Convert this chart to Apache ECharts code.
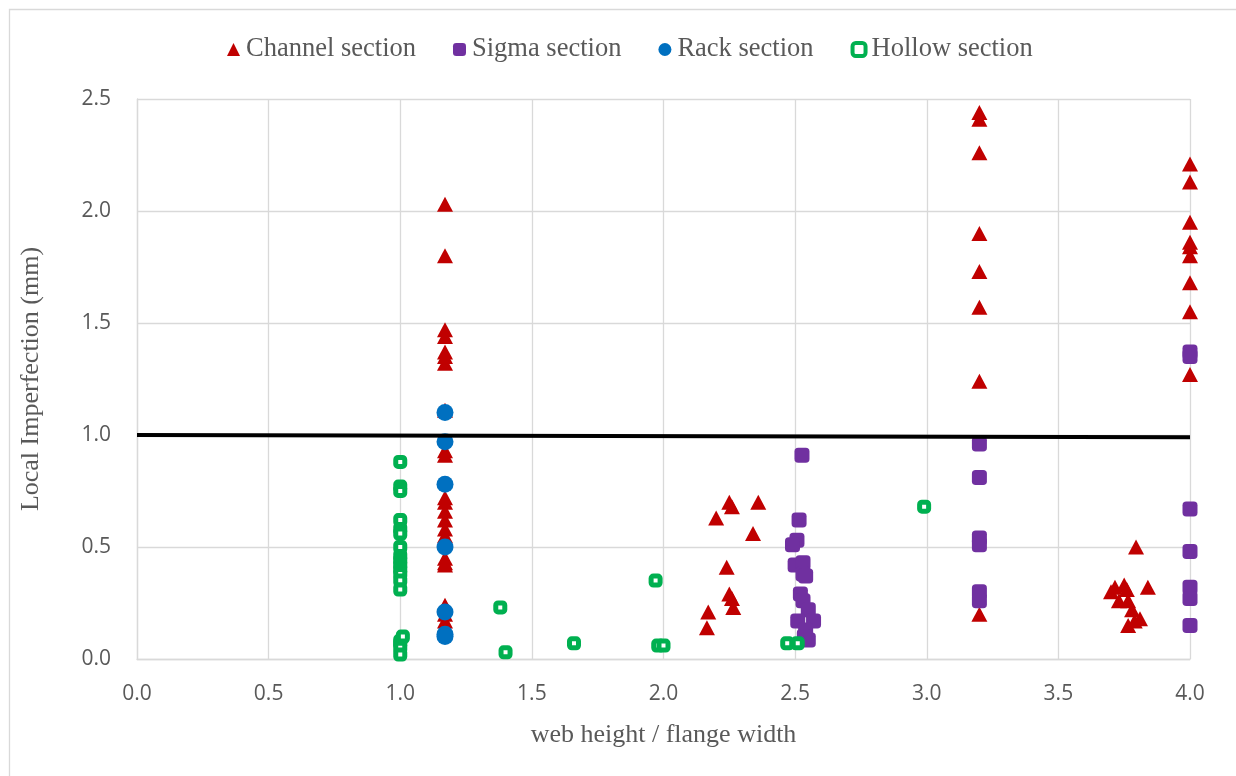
<!DOCTYPE html>
<html>
<head>
<meta charset="utf-8">
<script src="https://cdn.jsdelivr.net/npm/echarts@6/dist/echarts.min.js"></script>
<style>html,body{margin:0;padding:0;background:#fff;}#c{width:1236px;height:776px;}</style>
</head>
<body>
<div id="c"></div>
<script>
// ---- data ----
const channelX = [1.17,1.17,1.17,1.17,1.17,1.17,1.17,1.17,1.17,1.17,1.17,1.17,1.17,1.17,1.17,1.17,1.17,1.17,1.17,1.17,1.17,1.17,
  2.165,2.17,2.20,2.24,2.25,2.26,2.265,2.25,2.26,2.34,2.36,
  3.2,3.2,3.2,3.2,3.2,3.2,3.2,3.2,
  3.795,3.715,3.70,3.75,3.76,3.84,3.73,3.765,3.78,3.81,3.765,3.79,
  4.0,4.0,4.0,4.0,4.0,4.0,4.0,4.0,4.0];
const channelY = [2.03,1.80,1.47,1.44,1.37,1.35,1.32,1.11,0.93,0.91,0.72,0.70,0.66,0.62,0.58,0.55,0.45,0.43,0.42,0.24,0.20,0.17,
  0.14,0.21,0.63,0.41,0.29,0.27,0.23,0.70,0.68,0.56,0.70,
  2.44,2.41,2.26,1.90,1.73,1.57,1.24,0.20,
  0.50,0.32,0.30,0.33,0.31,0.32,0.26,0.26,0.22,0.18,0.15,0.17,
  2.21,2.13,1.95,1.86,1.84,1.80,1.68,1.55,1.27];

const sigmaX = [2.526,2.515,2.507,2.49,2.50,2.53,2.53,2.54,2.52,2.53,2.55,2.51,2.57,2.54,2.55,2.535,
  3.2,3.2,3.2,3.2,3.2,3.2,
  4.0,4.0,4.0,4.0,4.0,4.0,4.0];
const sigmaY = [0.91,0.62,0.53,0.51,0.42,0.43,0.38,0.37,0.29,0.26,0.22,0.17,0.17,0.13,0.085,0.10,
  0.96,0.81,0.54,0.51,0.30,0.26,
  1.37,1.35,0.67,0.48,0.32,0.27,0.15];

const rackX = [1.17,1.17,1.17,1.17,1.17,1.17,1.17];
const rackY = [1.10,0.97,0.78,0.50,0.21,0.11,0.10];

const hollowX = [1.0,1.0,1.0,1.0,1.0,1.0,1.0,1.0,1.0,1.0,1.0,1.0,1.0,1.0,1.0,1.0,1.0,1.0,
  1.01,1.38,1.40,1.66,1.97,1.98,2.0,2.47,2.51,2.99];
const hollowY = [0.88,0.77,0.75,0.62,0.58,0.56,0.50,0.46,0.44,0.42,0.40,0.38,0.35,0.31,0.08,0.07,0.05,0.02,
  0.10,0.23,0.03,0.07,0.35,0.06,0.06,0.07,0.07,0.68];

const refLineX = [0, 4.0];
const refLineY = [1.0, 0.99];

const seriesNames = ['Channel section','Sigma section','Rack section','Hollow section'];
const xTicks = [0, 4.0, 0.5];   // min, max, interval
const yTicks = [0, 2.5, 0.5];

// ---- build ----
const pairs = (xs, ys) => xs.map((x, i) => [x, ys[i]]);
const gridCol = '#d9d9d9';
const textCol = '#595959';
const serif = '"Liberation Serif","Times New Roman",serif';
const sans = '"Open Sans","DejaVu Sans",sans-serif';

const chart = echarts.init(document.getElementById('c'), null, {renderer: 'canvas'});
chart.setOption({
  animation: false,
  backgroundColor: '#fff',
  graphic: [{
    type: 'rect', left: 7, top: 7, z: -10,
    shape: {width: 1400, height: 1000},
    style: {fill: 'none', stroke: gridCol, lineWidth: 1.3}
  }],
  legend: {
    top: 31, left: 222,
    itemGap: 37, itemWidth: 13, itemHeight: 13,
    textStyle: {fontFamily: serif, fontSize: 26.5, color: textCol, padding: [0,0,0,1]},
    data: [
      {name: seriesNames[0]},
      {name: seriesNames[1]},
      {name: seriesNames[2]},
      {name: seriesNames[3], itemStyle: {borderWidth: 4, color: '#fff', borderColor: '#00B050'}}
    ]
  },
  grid: {left: 137, right: 46, top: 99, bottom: 117},
  xAxis: {
    type: 'value', min: xTicks[0], max: xTicks[1], interval: xTicks[2],
    name: 'web height / flange width', nameLocation: 'middle', nameGap: 63,
    nameTextStyle: {fontFamily: serif, fontSize: 26, color: textCol},
    axisLine: {show: true, lineStyle: {color: gridCol, width: 1.3}},
    axisTick: {show: false},
    splitLine: {show: true, lineStyle: {color: gridCol, width: 1.3}},
    axisLabel: {fontFamily: sans, fontSize: 21, color: textCol, margin: 25,
      formatter: v => v.toFixed(1)}
  },
  yAxis: {
    type: 'value', min: yTicks[0], max: yTicks[1], interval: yTicks[2],
    name: 'Local Imperfection (mm)', nameLocation: 'middle', nameGap: 93,
    nameTextStyle: {fontFamily: serif, fontSize: 26, color: textCol},
    axisLine: {show: true, lineStyle: {color: gridCol, width: 1.3}},
    axisTick: {show: false},
    splitLine: {show: true, lineStyle: {color: gridCol, width: 1.3}},
    axisLabel: {fontFamily: sans, fontSize: 21, color: textCol, margin: 26,
      formatter: v => v.toFixed(1)}
  },
  series: [
    {name: seriesNames[0], type: 'scatter', symbol: 'triangle', symbolSize: [16, 15],
      itemStyle: {color: '#C00000', opacity: 1}, data: pairs(channelX, channelY), z: 2},
    {name: seriesNames[1], type: 'scatter', symbol: 'roundRect', symbolSize: 15,
      itemStyle: {color: '#7030A0', opacity: 1}, data: pairs(sigmaX, sigmaY), z: 3},
    {name: seriesNames[2], type: 'scatter', symbol: 'circle', symbolSize: 17,
      itemStyle: {color: '#0070C0', opacity: 1}, data: pairs(rackX, rackY), z: 4},
    {name: seriesNames[3], type: 'scatter', symbol: 'roundRect', symbolSize: 9,
      itemStyle: {color: '#ffffff', borderColor: '#00B050', borderWidth: 5, opacity: 1},
      data: pairs(hollowX, hollowY), z: 5},
    {name: 'ref', type: 'line', data: pairs(refLineX, refLineY), showSymbol: false,
      symbol: 'none', lineStyle: {color: '#000', width: 4}, z: 10, silent: true}
  ]
});
</script>
</body>
</html>
